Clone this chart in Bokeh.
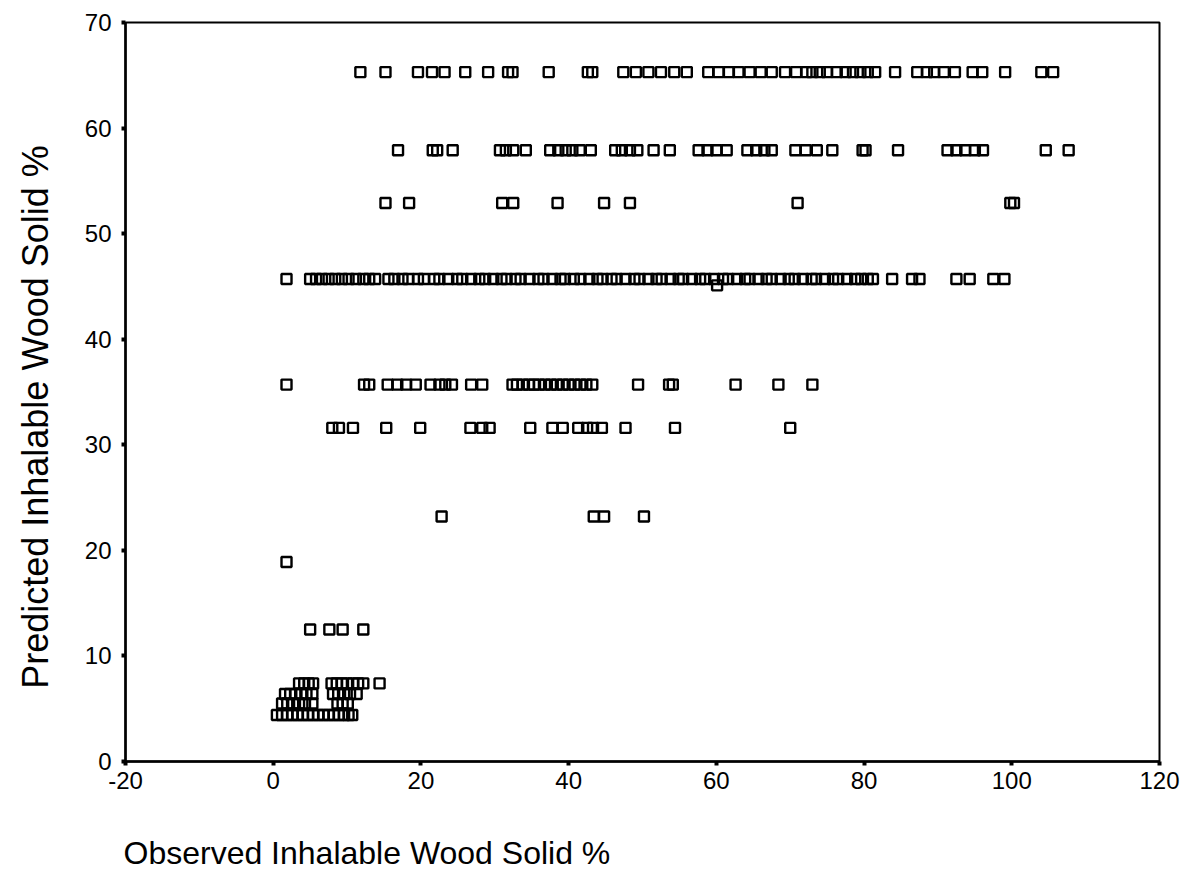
from bokeh.plotting import figure
from bokeh.models import FixedTicker
from bokeh.embed import file_html
from bokeh.resources import INLINE

# ---- data ----
y_levels = [65.3, 57.9, 52.9, 45.7, 45.1, 35.7, 31.6, 23.2, 18.9, 12.5, 7.4, 6.4, 5.5, 4.4]

x_at_65_3 = [11.8, 15.2, 19.6, 21.5, 23.2, 26.0, 29.1, 31.8, 32.4, 37.3, 42.6, 43.2,
             47.4, 49.1, 50.8, 52.5, 54.3, 56.0,
             58.9, 60.3, 61.7, 63.0, 64.5, 66.0, 67.5,
             69.3, 70.8, 72.2, 73.0, 74.0, 75.0, 76.3, 77.5, 78.5, 79.5, 80.5, 81.5,
             84.2, 87.2, 88.5, 89.5, 90.8, 92.3, 94.7, 96.0, 99.1, 104.0, 105.6]

x_at_57_9 = [16.9, 21.6, 22.2, 24.3, 30.7, 31.5, 32.5, 34.2, 37.5, 38.6, 39.6, 40.5, 41.5,
             43.0, 46.3, 47.2, 48.3, 49.3, 51.5, 53.7, 57.6, 58.8, 60.0, 61.4,
             64.2, 65.4, 66.5, 67.5, 70.7, 72.1, 73.6, 75.7, 79.8, 80.2, 84.6,
             91.3, 92.5, 93.7, 95.0, 96.1, 104.6, 107.7]

x_at_52_9 = [15.2, 18.4, 31.0, 32.5, 38.5, 44.8, 48.3, 71.0, 99.8, 100.3]

x_at_45_7 = [1.8, 5.0, 5.8, 6.6, 7.5, 8.4, 9.3, 10.2, 11.2, 12.2, 13.0, 13.8,
             15.6, 16.4, 17.5, 18.3, 19.6, 20.4, 21.8, 22.5, 23.7, 24.9, 25.6, 26.8,
             27.9, 28.7, 29.8, 30.9, 31.6, 32.8, 33.5, 34.7, 35.9, 36.6, 37.8, 38.9,
             39.5, 40.7, 41.6, 42.8, 43.9, 44.6, 45.8, 46.5, 47.7, 48.9, 49.6, 50.8,
             51.9, 52.6, 53.8, 54.9, 55.5, 56.7, 57.8, 58.5, 59.7, 60.9, 61.6, 62.8,
             63.9, 64.5, 65.7, 66.8, 67.5, 68.7, 69.8, 70.6, 71.7, 72.9, 73.5, 74.7,
             75.8, 76.5, 77.7, 78.8, 79.6, 80.5, 81.2,
             83.8, 86.5, 87.5, 92.5, 94.3, 97.5, 99.0]

x_at_45_1 = [60.1]

x_at_35_7 = [1.8, 12.3, 13.0, 15.5, 16.8, 18.0, 19.3, 21.3, 22.5, 23.3, 24.2, 26.8, 28.3,
             32.4, 33.0, 33.8, 34.6, 35.3, 36.0, 36.8, 37.6, 38.4, 39.2, 40.0, 40.8,
             41.6, 42.4, 43.2, 49.4, 53.6, 54.1, 62.6, 68.4, 73.0]

x_at_31_6 = [8.0, 8.9, 10.8, 15.3, 19.9, 26.7, 28.3, 29.3, 34.8, 37.8, 39.2, 41.3, 42.5,
             43.3, 44.5, 47.7, 54.4, 70.0]

x_at_23_2 = [22.8, 43.4, 44.8, 50.2]

x_at_18_9 = [1.8]

x_at_12_5 = [5.0, 7.6, 9.4, 12.2]

x_at_7_4 = [3.5, 4.2, 4.8, 5.4, 7.9, 8.6, 9.3, 10.0, 10.8, 11.5, 12.2, 14.4]

x_at_6_4 = [1.6, 2.3, 3.0, 3.8, 4.5, 5.3, 8.1, 8.8, 9.6, 10.4, 11.3]

x_at_5_5 = [1.2, 1.9, 2.7, 3.5, 4.3, 5.3, 8.7, 9.4, 10.1]

x_at_4_4 = [0.5, 1.2, 1.9, 2.6, 3.3, 4.0, 4.7, 5.4, 6.1, 6.8, 7.5, 8.2, 8.9, 9.6, 10.2, 10.7]

x_ticks = [-20, 0, 20, 40, 60, 80, 100, 120]
y_ticks = [0, 10, 20, 30, 40, 50, 60, 70]
x_title = "Observed Inhalable Wood Solid %"
y_title = "Predicted Inhalable Wood Solid %"

rows = [x_at_65_3, x_at_57_9, x_at_52_9, x_at_45_7, x_at_45_1, x_at_35_7, x_at_31_6,
        x_at_23_2, x_at_18_9, x_at_12_5, x_at_7_4, x_at_6_4, x_at_5_5, x_at_4_4]

xs, ys = [], []
for yv, row in zip(y_levels, rows):
    for xv in row:
        xs.append(xv)
        ys.append(yv)

FONT = "Liberation Sans"

p = figure(width=1188, height=887, x_range=(-20, 120), y_range=(0, 70),
           output_backend="svg", toolbar_location=None,
           min_border_left=125, min_border_right=29, min_border_top=22, min_border_bottom=126)

p.scatter(xs, ys, marker="square", size=10, line_color="black", line_width=2.4,
          fill_alpha=0)

p.xgrid.visible = False
p.ygrid.visible = False
p.outline_line_color = "black"
p.outline_line_width = 2
p.background_fill_color = "white"
p.border_fill_color = "white"

for ax in (p.xaxis[0], p.yaxis[0]):
    ax.axis_line_width = 2.5
    ax.axis_line_color = "black"
    ax.major_tick_in = 0
    ax.major_tick_out = 4
    ax.major_tick_line_width = 4
    ax.major_tick_line_color = "black"
    ax.minor_tick_line_color = None
    ax.major_label_text_font = FONT
    ax.major_label_text_font_size = "24px"
    ax.major_label_text_color = "black"
    ax.axis_label_text_font = FONT
    ax.axis_label_text_font_style = "normal"
    ax.axis_label_text_color = "black"

xa = p.xaxis[0]
ya = p.yaxis[0]
xa.ticker = FixedTicker(ticks=x_ticks)
ya.ticker = FixedTicker(ticks=y_ticks)
xa.major_label_overrides = {t: str(t) for t in x_ticks}
xa.major_label_standoff = 6
ya.major_label_standoff = 10

# title placed left-aligned under the frame: trailing no-break spaces shift the
# centred label so that its visible text starts at the frame's left edge
xa.axis_label = x_title + "\u00a0" * 62
xa.axis_label_align = "center"
xa.axis_label_standoff = 43
xa.axis_label_text_font_size = "32px"

ya.axis_label = y_title + "\u00a0" * 5
ya.axis_label_align = "center"
ya.axis_label_standoff = 26
ya.axis_label_text_font_size = "36px"

open("out.html", "w").write(file_html(p, INLINE))
